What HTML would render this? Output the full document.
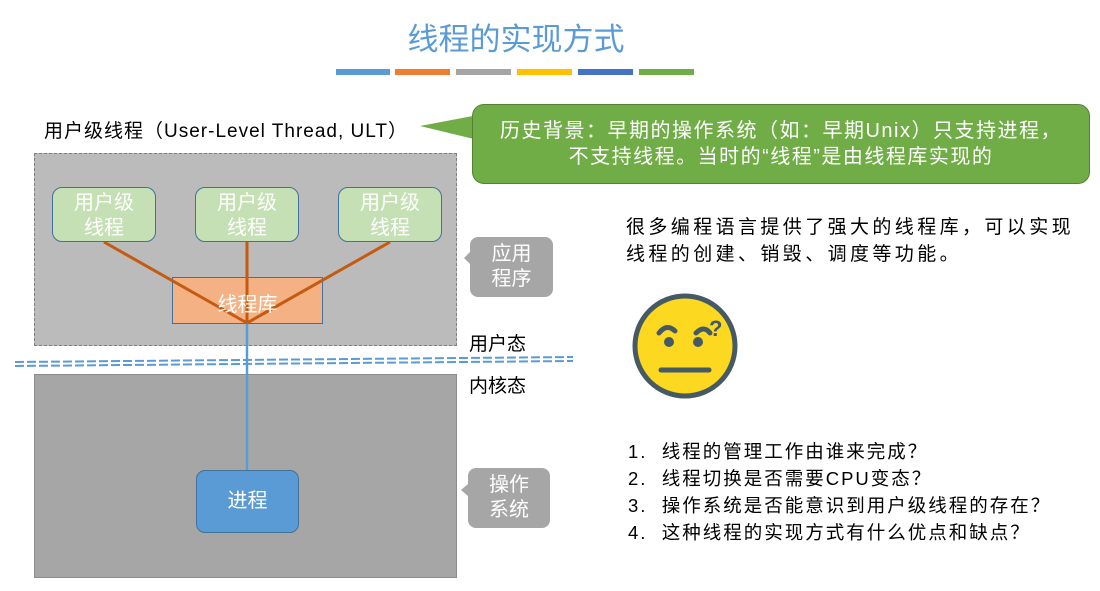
<!DOCTYPE html>
<html><head><meta charset="utf-8"><style>
body{margin:0;width:1100px;height:591px;background:#fff;position:relative;overflow:hidden;font-family:"Liberation Sans","Noto Sans CJK SC",sans-serif;}
.a{position:absolute;}
.t{white-space:nowrap;}
.node{position:absolute;background:#c5e0b4;border:1.5px solid #41719c;border-radius:10px;color:#fff;font-size:20px;line-height:25px;text-align:center;box-sizing:border-box;padding-top:3px;}
</style></head><body>
<div class="a t" style="left:0;width:1032px;top:14px;text-align:center;font-size:31px;color:#5b9bd5;">线程的实现方式</div>
<div class="a" style="left:336px;top:69px;width:54px;height:6px;background:#5b9bd5"></div>
<div class="a" style="left:395px;top:69px;width:55px;height:6px;background:#ed7d31"></div>
<div class="a" style="left:456px;top:69px;width:55px;height:6px;background:#a5a5a5"></div>
<div class="a" style="left:517px;top:69px;width:55px;height:6px;background:#ffc000"></div>
<div class="a" style="left:578px;top:69px;width:55px;height:6px;background:#4472c4"></div>
<div class="a" style="left:639px;top:69px;width:55px;height:6px;background:#70ad47"></div>

<div class="a t" style="left:44px;top:116px;font-size:19px;color:#000;letter-spacing:1px;">用户级线程（User-Level Thread, ULT）</div>

<div class="a" style="left:34px;top:153px;width:423px;height:193px;background:#bbbbbb;border:1px dashed #7f7f7f;box-sizing:border-box;"></div>
<div class="a" style="left:34px;top:374px;width:423px;height:204px;background:#a6a6a6;border:1px solid #8c8c8c;box-sizing:border-box;"></div>

<div class="a" style="left:172px;top:277px;width:151px;height:47px;background:#f4b183;border:1px solid #41719c;box-sizing:border-box;"></div>

<svg class="a" style="left:0;top:0" width="1100" height="591">
<line x1="247" y1="323" x2="247" y2="470" stroke="#5b9bd5" stroke-width="2.5"/>
<line x1="104" y1="242" x2="247" y2="323" stroke="#c55a11" stroke-width="3"/>
<line x1="247" y1="242" x2="247" y2="323" stroke="#c55a11" stroke-width="3"/>
<line x1="390" y1="242" x2="247" y2="323" stroke="#c55a11" stroke-width="3"/>
<line x1="15" y1="362" x2="573" y2="357" stroke="#5b9bd5" stroke-width="2" stroke-dasharray="9,3"/>
<line x1="15" y1="366" x2="573" y2="361" stroke="#5b9bd5" stroke-width="2" stroke-dasharray="9,3"/>
<path d="M420 126 L478 115 L478 140 Z" fill="#70ad47"/>
<path d="M470 252 L464 258 L470 264 Z" fill="#a6a6a6"/>
<path d="M468 484 L461 490 L468 496 Z" fill="#a6a6a6"/>
<circle cx="685" cy="346" r="50" fill="#fcd820" stroke="#455a64" stroke-width="5"/>
<path d="M659 333 q8 -10 16 -2" fill="none" stroke="#455a64" stroke-width="5" stroke-linecap="round"/>
<path d="M696 333 q8 -8 14 0" fill="none" stroke="#455a64" stroke-width="5" stroke-linecap="round"/>
<circle cx="669" cy="342" r="5" fill="#455a64"/>
<circle cx="698" cy="342" r="5" fill="#455a64"/>
<line x1="661" y1="370" x2="709" y2="370" stroke="#455a64" stroke-width="5" stroke-linecap="round"/>
<text x="709" y="336" font-size="22" font-weight="bold" fill="#455a64" font-family="Liberation Sans">?</text>
</svg>
<div class="a t" style="left:172px;top:288px;width:151px;text-align:center;color:#fff;font-size:20px;">线程库</div>

<div class="node" style="left:52px;top:187px;width:104px;height:55px;">用户级<br>线程</div>
<div class="node" style="left:195px;top:187px;width:104px;height:55px;">用户级<br>线程</div>
<div class="node" style="left:338px;top:187px;width:104px;height:55px;">用户级<br>线程</div>

<div class="a" style="left:196px;top:470px;width:103px;height:63px;background:#5b9bd5;border:1px solid #41719c;border-radius:9px;box-sizing:border-box;color:#fff;font-size:20px;text-align:center;line-height:61px;">进程</div>

<div class="a" style="left:470px;top:237px;width:83px;height:60px;background:#a6a6a6;border-radius:8px;color:#fff;font-size:20px;line-height:25px;text-align:center;padding-top:5px;box-sizing:border-box;">应用<br>程序</div>
<div class="a" style="left:468px;top:468px;width:82px;height:60px;background:#a6a6a6;border-radius:8px;color:#fff;font-size:20px;line-height:25px;text-align:center;padding-top:5px;box-sizing:border-box;">操作<br>系统</div>

<div class="a t" style="left:469px;top:329px;font-size:19px;">用户态</div>
<div class="a t" style="left:469px;top:371px;font-size:19px;">内核态</div>

<div class="a" style="left:472px;top:104px;width:618px;height:80px;background:#70ad47;border:1px solid #548235;border-radius:12px;box-sizing:border-box;color:#fff;font-size:20px;line-height:26px;text-align:center;padding-top:13px;letter-spacing:1.5px;white-space:nowrap;">历史背景：早期的操作系统（如：早期Unix）只支持进程，<br>不支持线程。当时的“线程”是由线程库实现的</div>

<div class="a t" style="left:626px;top:214px;font-size:19px;line-height:27px;letter-spacing:3.4px;">很多编程语言提供了强大的线程库，可以实现<br>线程的创建、销毁、调度等功能。</div>

<div class="a t" style="left:628px;top:438px;font-size:18.5px;line-height:27px;letter-spacing:2px;">1.&nbsp;&nbsp;线程的管理工作由谁来完成？<br>2.&nbsp;&nbsp;线程切换是否需要CPU变态？<br>3.&nbsp;&nbsp;操作系统是否能意识到用户级线程的存在？<br>4.&nbsp;&nbsp;这种线程的实现方式有什么优点和缺点？</div>
</body></html>
